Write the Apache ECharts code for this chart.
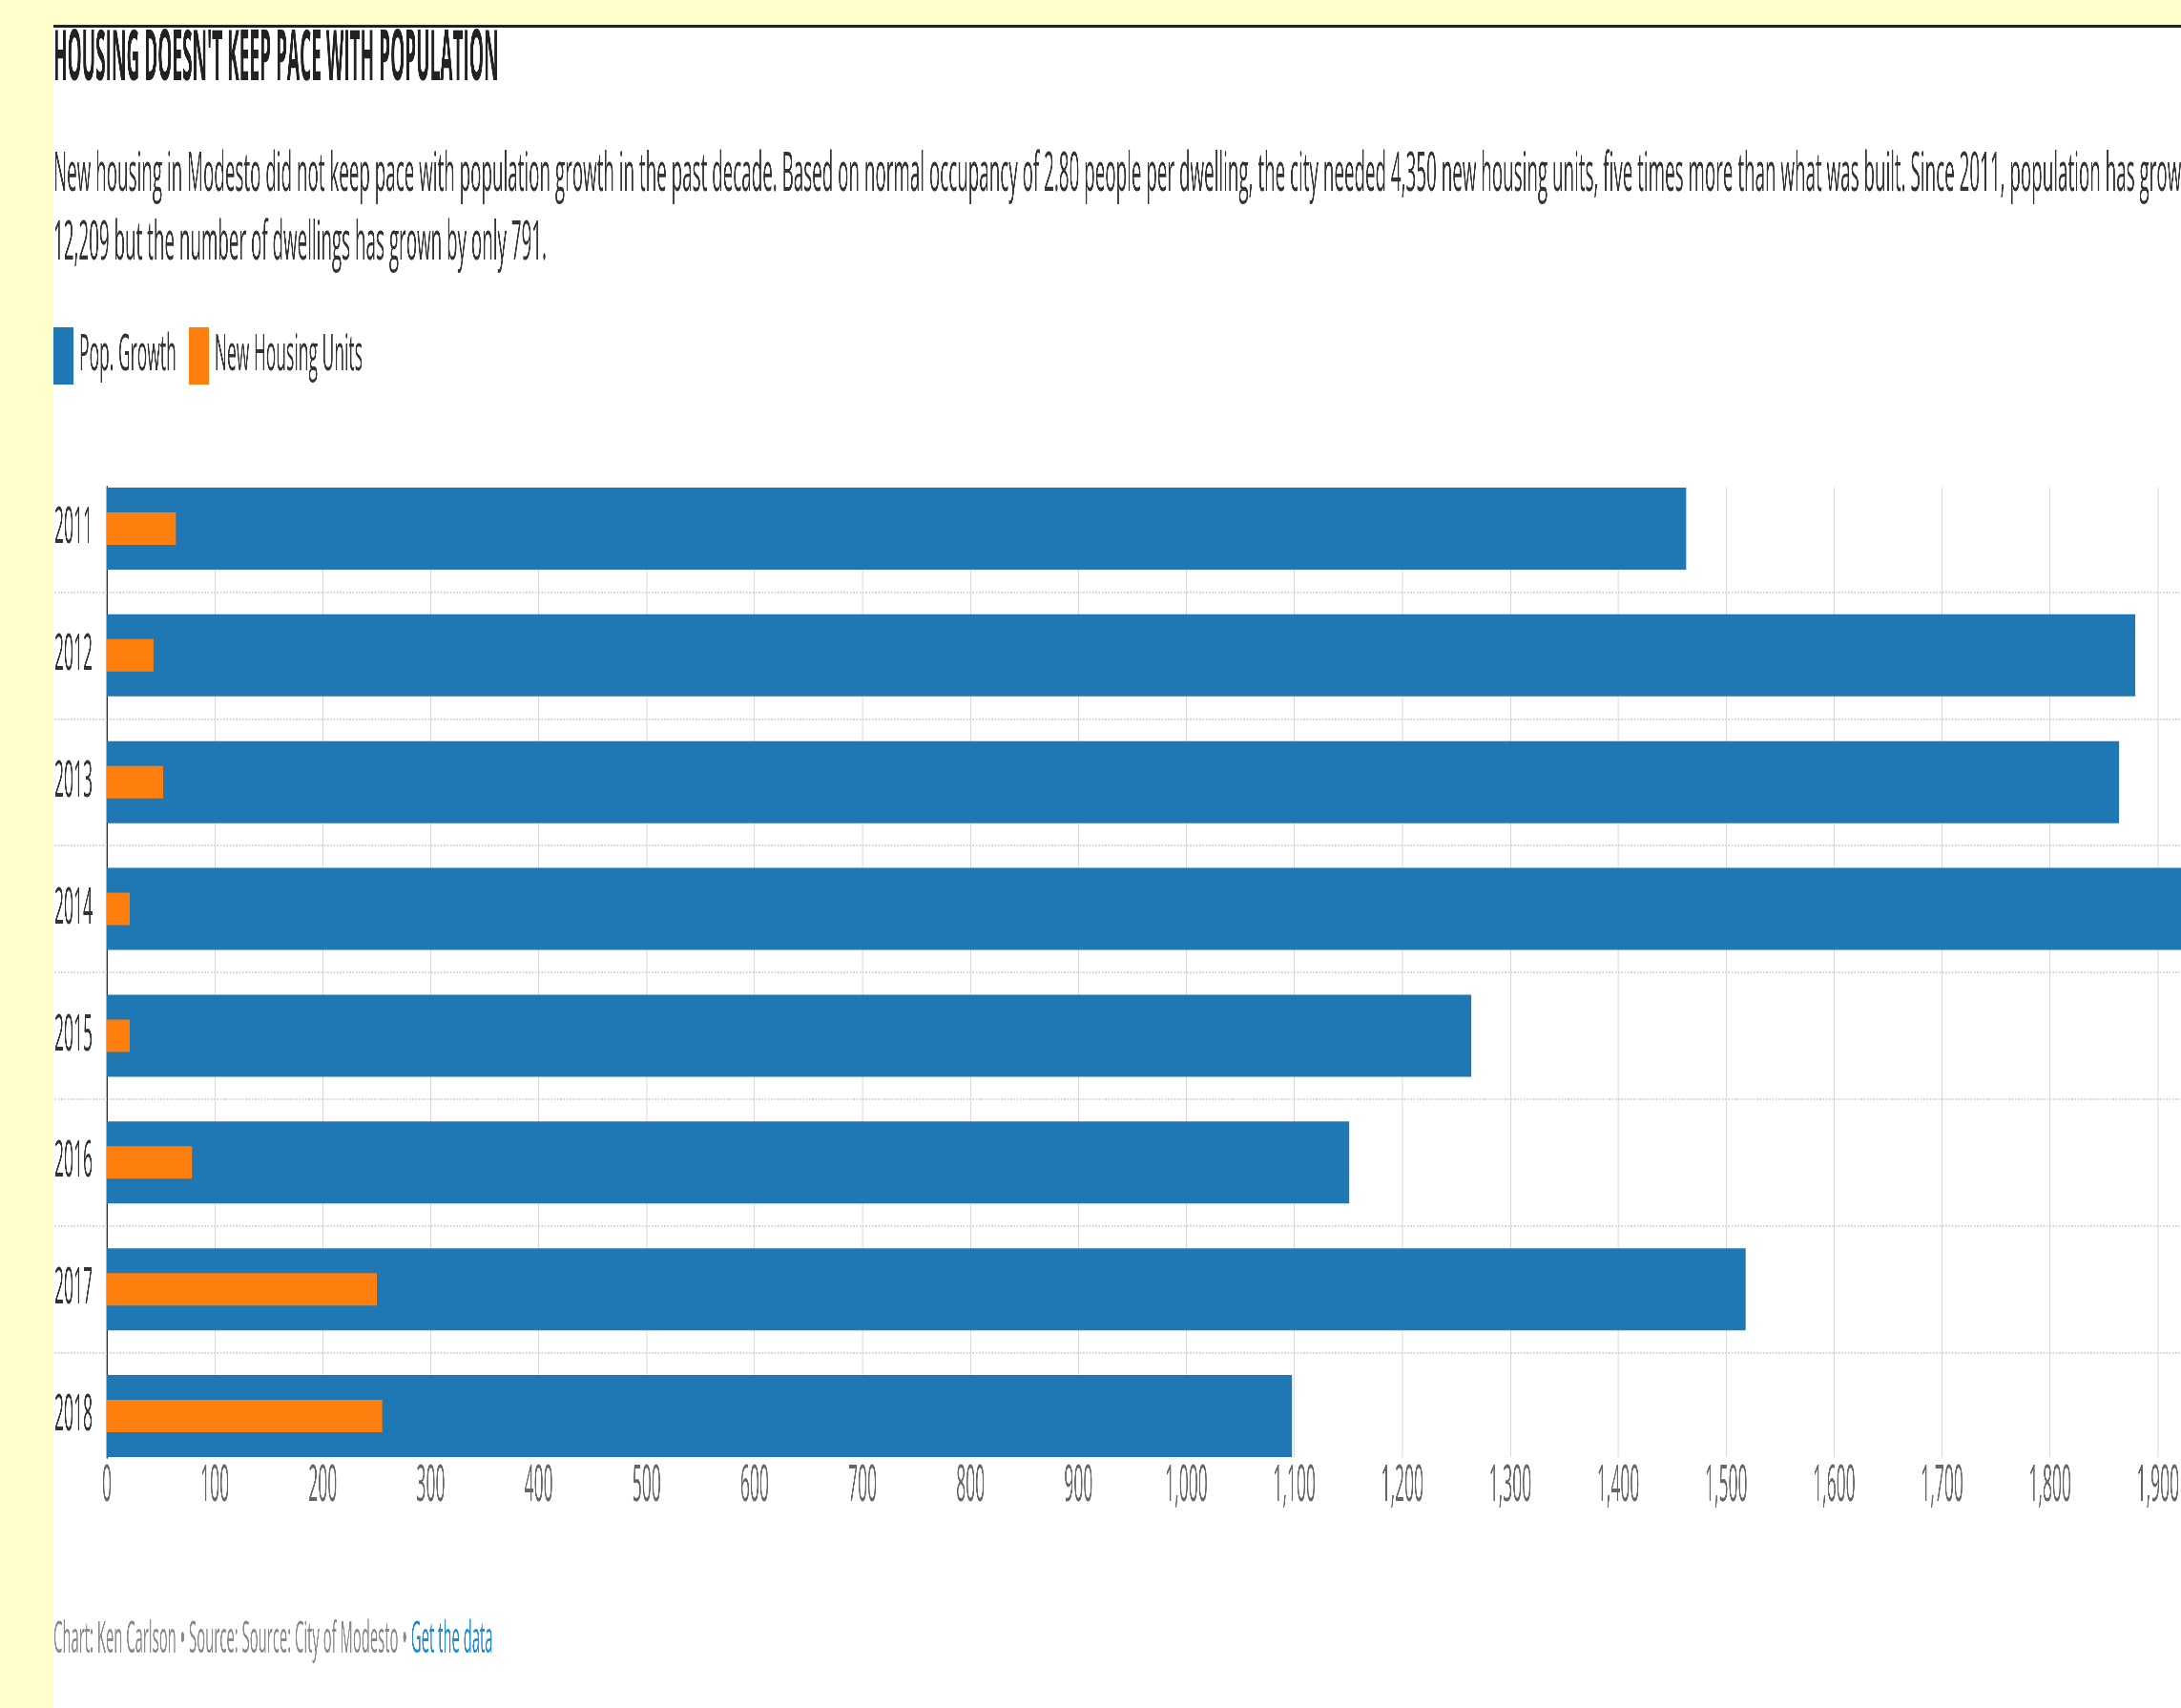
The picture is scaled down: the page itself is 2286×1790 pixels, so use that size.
<!DOCTYPE html>
<html>
<head>
<meta charset="utf-8">
<script src="https://cdn.jsdelivr.net/npm/echarts@6/dist/echarts.min.js"></script>
<style>
  html, body { margin: 0; padding: 0; width: 2286px; height: 1790px; overflow: hidden; background: #ffffcc; }
  #panel { position: absolute; left: 56px; top: 26px; right: 0; bottom: 0; background: #fff; border-top: 3px solid #222; }
  #main { position: absolute; left: 0; top: 0; height: 1790px; transform-origin: 0 0; }
</style>
</head>
<body>
<div id="panel"></div>
<div id="main"></div>
<script>
// reference text is squeezed sideways, so the whole chart is drawn wide and squeezed with css
const S = 0.33;
const px = v => v / S;
const W = 2286 / S;

const years = ['2011', '2012', '2013', '2014', '2015', '2016', '2017', '2018'];
const popGrowth = [1463, 1879, 1864, 1972, 1264, 1151, 1518, 1098];
const newHousing = [64, 43, 52, 21, 21, 79, 250, 255];
const xMax = 2000;
const xStep = 100;

const el = document.getElementById('main');
el.style.width = W + 'px';
el.style.transform = 'scaleX(' + S + ')';

const chart = echarts.init(el, null, { width: W, height: 1790 });

const FONT = '"Open Sans", "Noto Sans", sans-serif';
const gridLeft = px(112);
const gridRight = W - px(2375);

const option = {
  animation: false,
  backgroundColor: 'transparent',
  textStyle: { fontFamily: FONT },
  legend: {
    data: ['Pop. Growth', 'New Housing Units'],
    left: px(56),
    top: 343,
    padding: 0,
    icon: 'rect',
    itemWidth: px(21),
    itemHeight: 60,
    itemGap: px(13),
    textStyle: { fontSize: 53, color: '#333', padding: [0, 0, 0, px(6) - 5] }
  },
  graphic: [
    {
      type: 'text', x: px(56), y: 63, scaleX: 0.78,
      style: { text: "HOUSING DOESN'T KEEP PACE WITH POPULATION", fontFamily: FONT, fontWeight: 'bold', fontSize: 74, fill: '#222', verticalAlign: 'middle' }
    },
    {
      type: 'text', x: px(56), y: 184,
      style: { text: 'New housing in Modesto did not keep pace with population growth in the past decade. Based on normal occupancy of 2.80 people per dwelling, the city needed 4,350 new housing units, five times more than what was built. Since 2011, population has grown by', fontFamily: FONT, fontSize: 57, fill: '#333', verticalAlign: 'middle' }
    },
    {
      type: 'text', x: px(56), y: 256,
      style: { text: '12,209 but the number of dwellings has grown by only 791.', fontFamily: FONT, fontSize: 57, fill: '#333', verticalAlign: 'middle' }
    },
    {
      type: 'text', x: px(56), y: 1719,
      style: {
        text: '{g|Chart: Ken Carlson • Source: Source: City of Modesto • }{a|Get the data}',
        fontFamily: FONT, verticalAlign: 'middle',
        rich: {
          g: { fontFamily: FONT, fontSize: 45, fill: '#888' },
          a: { fontFamily: FONT, fontSize: 45, fill: '#1a8bd6' }
        }
      }
    }
  ],
  grid: [
    { left: gridLeft, right: gridRight, top: 511, bottom: 1790 - 1527, outerBoundsMode: 'none' },
    { left: gridLeft, right: gridRight, top: 554, bottom: 1790 - 1484, outerBoundsMode: 'none' }
  ],
  xAxis: [
    {
      gridIndex: 0, type: 'value', min: 0, max: xMax, interval: xStep,
      axisLine: { show: false }, axisTick: { show: false },
      splitLine: { lineStyle: { color: '#d8d8d8', width: 3 } },
      axisLabel: {
        fontSize: 53, color: '#666', margin: 4,
        formatter: v => v.toLocaleString('en-US')
      }
    },
    { gridIndex: 1, type: 'value', min: 0, max: xMax, interval: xStep, show: false }
  ],
  yAxis: [
    {
      // frame axis: only the dark line along the left edge
      gridIndex: 0, type: 'category', data: years, inverse: true,
      axisLine: { lineStyle: { color: '#333', width: 4 } },
      axisTick: { show: false }, axisLabel: { show: false }, splitLine: { show: false }
    },
    {
      gridIndex: 1, type: 'category', data: years, inverse: true, boundaryGap: false, position: 'left',
      axisLine: { show: false }, axisTick: { show: false }, splitLine: { show: false },
      axisLabel: { fontSize: 53, color: '#333', margin: px(15) }
    },
    {
      gridIndex: 1, type: 'category', data: years, inverse: true, boundaryGap: false, position: 'left', show: false
    },
    {
      // dotted separators half way between years
      gridIndex: 1, type: 'value', min: 0, max: years.length - 1, interval: 1, inverse: true, position: 'left',
      axisLine: { show: false }, axisTick: { show: false }, axisLabel: { show: false }, splitLine: { show: false },
      minorTick: { show: true, splitNumber: 2, length: px(56), lineStyle: { color: '#d4d4d4', width: 2, type: [5, 5] } },
      minorSplitLine: { show: true, lineStyle: { color: '#d4d4d4', width: 2, type: [5, 5] } }
    }
  ],
  series: [
    {
      name: 'Pop. Growth', type: 'bar', xAxisIndex: 1, yAxisIndex: 1,
      data: popGrowth, barWidth: 86, clip: false,
      itemStyle: { color: '#1f77b4' }
    },
    {
      name: 'New Housing Units', type: 'bar', xAxisIndex: 1, yAxisIndex: 2,
      data: newHousing, barWidth: 34, clip: false,
      itemStyle: { color: '#ff7f0e' }
    }
  ]
};

chart.setOption(option);
</script>
</body>
</html>
